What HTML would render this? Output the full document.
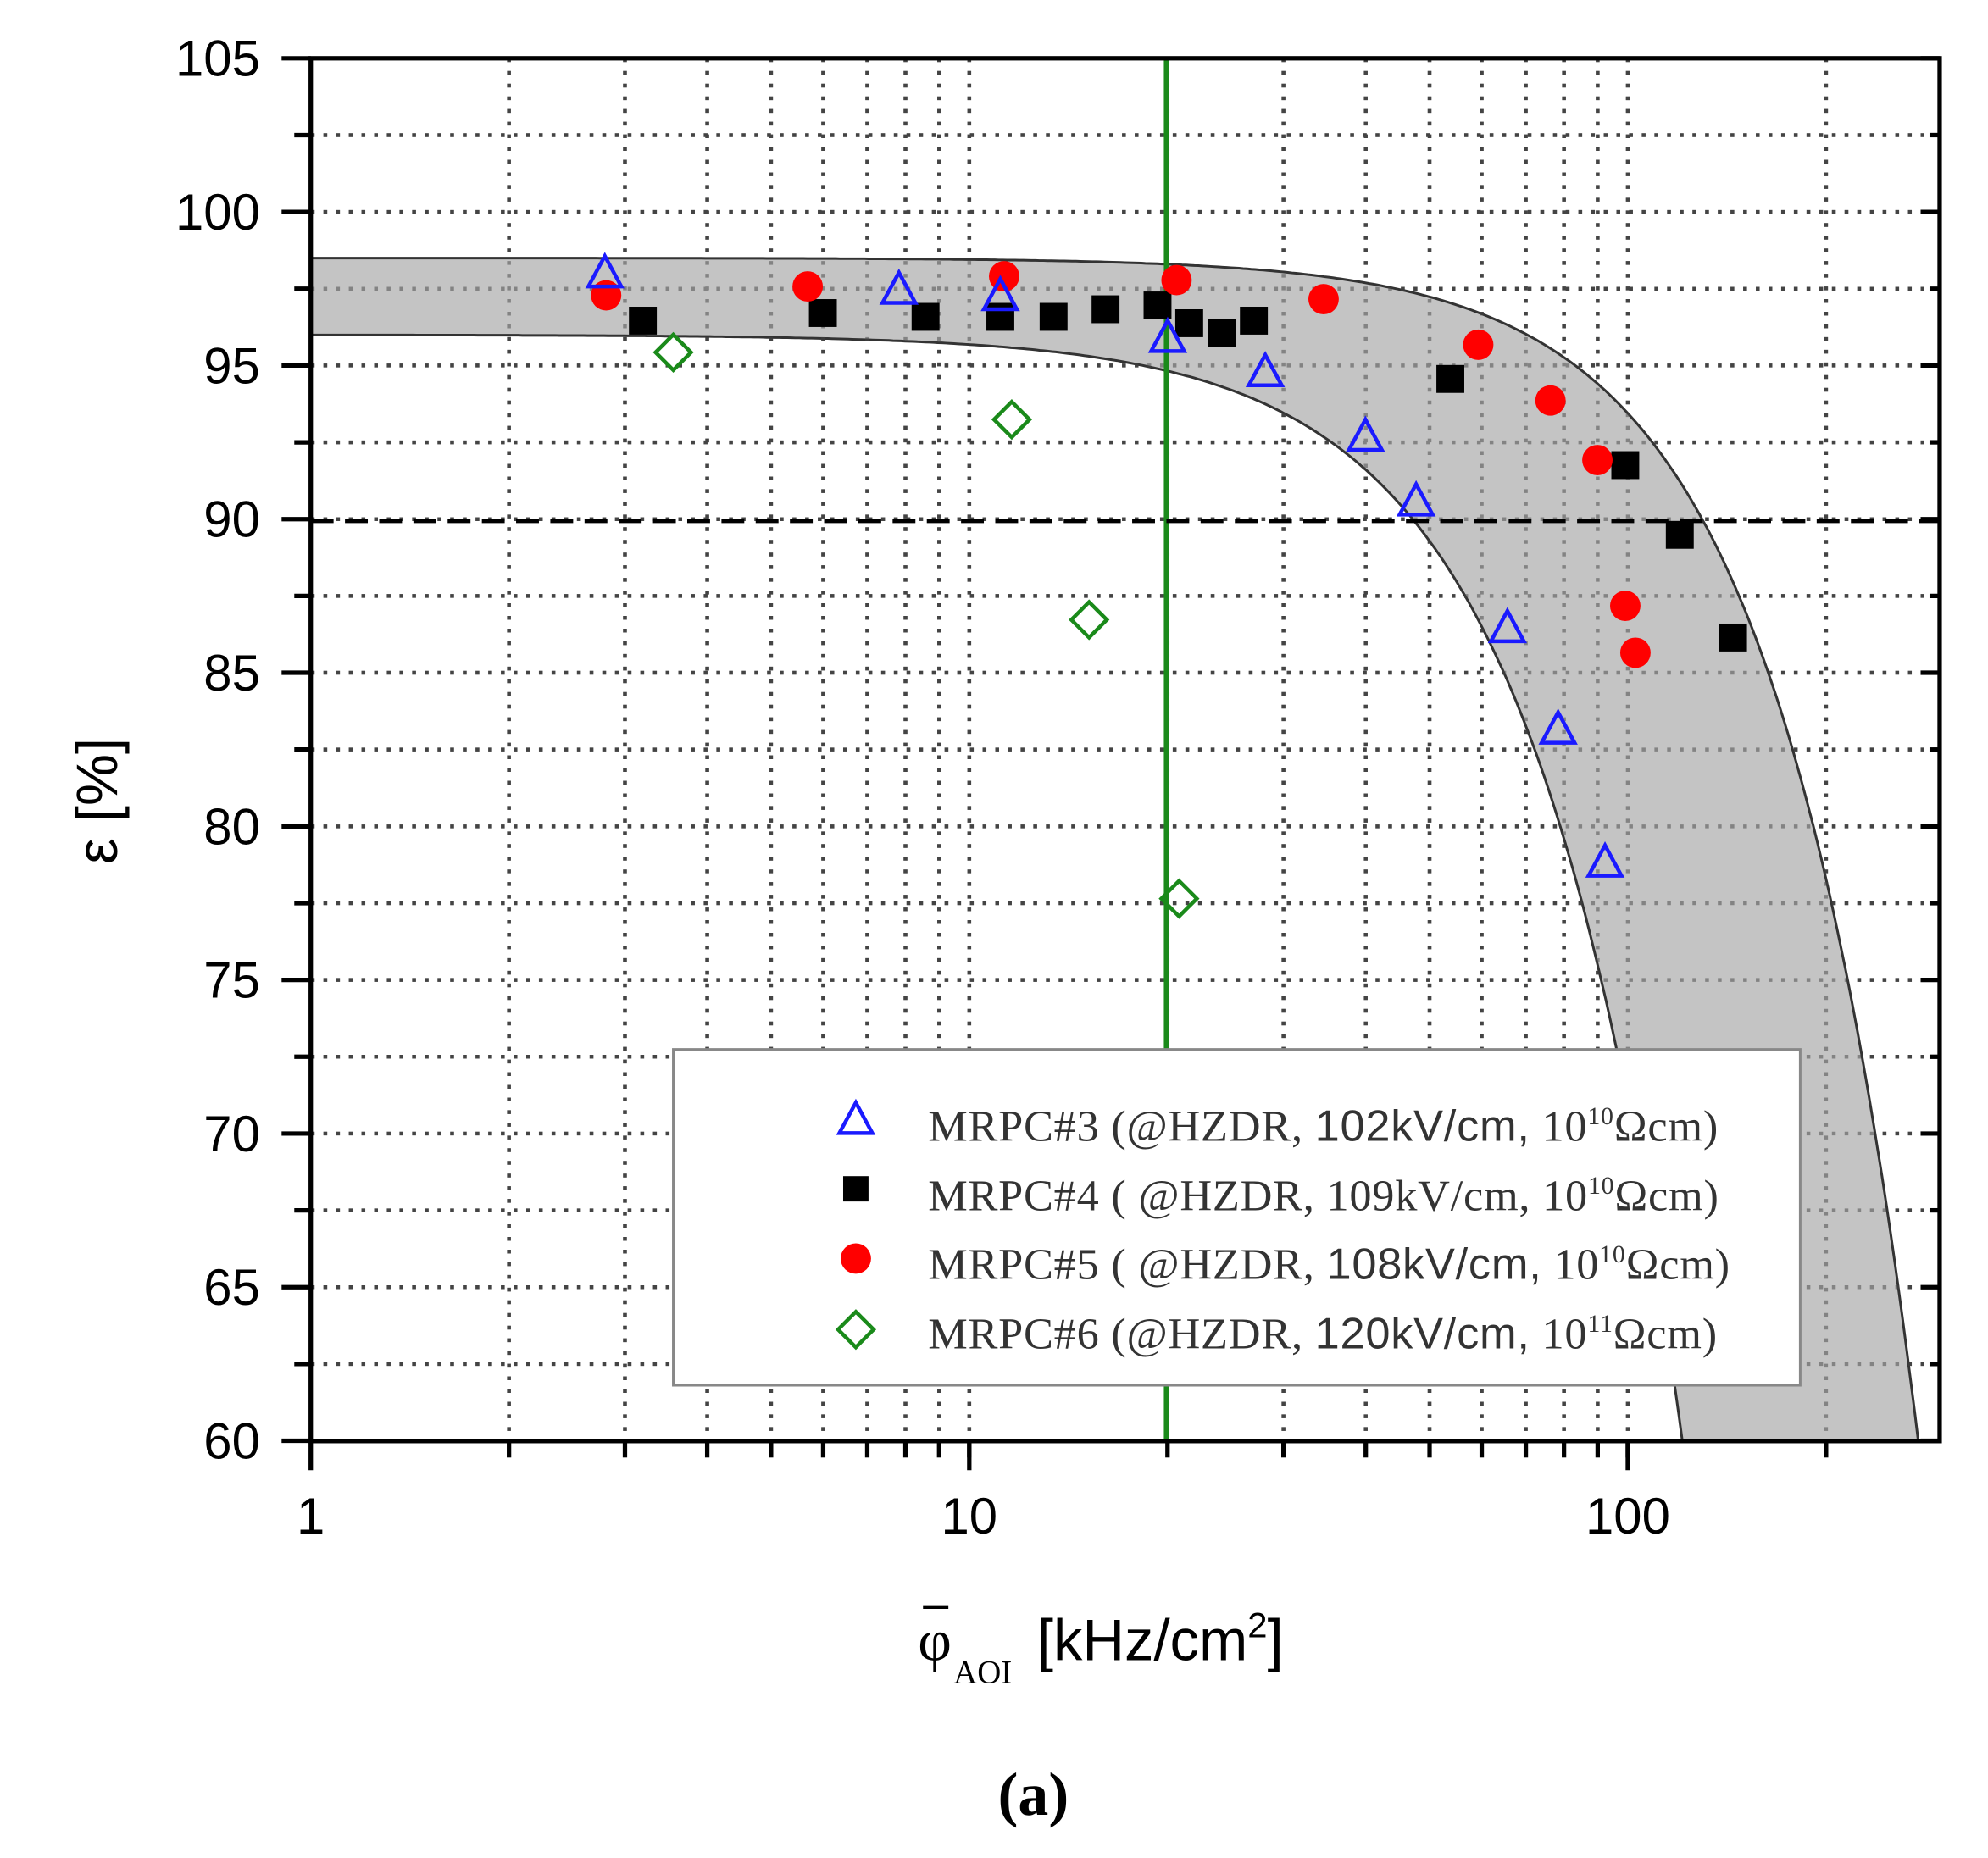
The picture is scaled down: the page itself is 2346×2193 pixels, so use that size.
<!DOCTYPE html>
<html><head><meta charset="utf-8"><style>
html,body{margin:0;padding:0;background:#fff;}
svg{display:block;}
</style></head><body>
<svg id="s" width="2346" height="2193" viewBox="0 0 1568 1466" xmlns="http://www.w3.org/2000/svg">
<rect x="0" y="0" width="1568" height="1466" fill="#fff"/>
<g id="grid"></g>
<path id="band" fill="#c4c4c4" stroke="#333" stroke-width="2"/>
<g id="grid2"></g>
<line x1="920" y1="46" x2="920" y2="1137" stroke="#1a8a1a" stroke-width="4"/>
<line x1="245" y1="411" x2="1530" y2="411" stroke="#000" stroke-width="3.5" stroke-dasharray="18,9"/>
<g id="axes" stroke="#000" stroke-width="3.5" fill="none">
<rect x="245" y="46" width="1285" height="1091"/>
</g>
<g id="ticks" stroke="#000" stroke-width="3.5"></g>
<g id="labels" font-family="Liberation Sans, sans-serif" font-size="40" fill="#000"></g>
<g id="pts"></g>
<g>
<rect x="531" y="828" width="889" height="265" fill="#fff" stroke="#888" stroke-width="2"/>
<polygon points="675,870 662,894 688,894" fill="none" stroke="#1a1aff" stroke-width="3"/>
<rect x="665" y="928" width="20" height="20" fill="#000"/>
<circle cx="675" cy="993" r="12" fill="#ff0000"/>
<polygon points="675,1035 689,1049 675,1063 661,1049" fill="none" stroke="#1a8a1a" stroke-width="3"/>
<g font-family="Liberation Serif, serif" font-size="35" fill="#333" letter-spacing="0.5">
<text x="732" y="900">MRPC#3 (@HZDR, <tspan font-family="Liberation Sans, sans-serif">102kV/cm,</tspan> 10<tspan font-size="20" dy="-13">10</tspan><tspan dy="13">Ωcm)</tspan></text>
<text x="732" y="955">MRPC#4 ( @HZDR, 109kV/cm, 10<tspan font-size="20" dy="-13">10</tspan><tspan dy="13">Ωcm)</tspan></text>
<text x="732" y="1009">MRPC#5 ( @HZDR, <tspan font-family="Liberation Sans, sans-serif">108kV/cm,</tspan> 10<tspan font-size="20" dy="-13">10</tspan><tspan dy="13">Ωcm)</tspan></text>
<text x="732" y="1064">MRPC#6 (@HZDR, <tspan font-family="Liberation Sans, sans-serif">120kV/cm,</tspan> 10<tspan font-size="20" dy="-13">11</tspan><tspan dy="13">Ωcm)</tspan></text>
</g>
</g>
<text transform="translate(92,632) rotate(-90)" text-anchor="middle" font-family="Liberation Sans, sans-serif" font-size="46">ε [%]</text>
<g font-family="Liberation Sans, sans-serif" font-size="46" fill="#000">
<text x="724" y="1310" font-family="Liberation Serif, serif">φ</text>
<line x1="728" y1="1268" x2="748" y2="1268" stroke="#000" stroke-width="3"/>
<text x="752" y="1328" font-size="26" font-family="Liberation Serif, serif">AOI</text>
<text x="818" y="1310">[kHz/cm<tspan font-size="28" dy="-18">2</tspan><tspan dy="18">]</tspan></text>
</g>
<text x="815" y="1432" text-anchor="middle" font-family="Liberation Serif, serif" font-size="48" font-weight="bold">(a)</text>
</svg>
<script>
var NS="http://www.w3.org/2000/svg";
function X(v){return 245+519.5*Math.log10(v);}
function Y(v){return 46+(105-v)*24.24;}
function el(p,t,a){var e=document.createElementNS(NS,t);for(var k in a)e.setAttribute(k,a[k]);document.getElementById(p).appendChild(e);return e;}
var xs=[2,3,4,5,6,7,8,9,10,20,30,40,50,60,70,80,90,100,200];
["grid","grid2"].forEach(function(g){
 for(var v=62.5;v<105;v+=2.5){el(g,"line",{x1:245,x2:1530,y1:Y(v),y2:Y(v),stroke:"#444","stroke-width":3,"stroke-dasharray":"3,7"});}
 xs.forEach(function(x){el(g,"line",{x1:X(x),x2:X(x),y1:46,y2:1137,stroke:"#444","stroke-width":3,"stroke-dasharray":"3,7"});});
});
document.getElementById("grid2").setAttribute("opacity","0.5");
var up=[],lo=[];
for(var i=0;i<=400;i++){var lx=i*(2.473/400);var p=Math.pow(10,lx);
 var u=98.5-38.5*Math.pow(p/276,2);var l=96-36*Math.pow(p/121,1.9);
 if(u>=60)up.push([X(p),Y(u)]);if(l>=60)lo.push([X(p),Y(l)]);}
up.push([X(276),Y(60)]);lo.push([X(121),Y(60)]);
var d="M"+up.map(function(q){return q[0].toFixed(1)+","+q[1].toFixed(1);}).join(" L");
d+=" L"+lo.slice().reverse().map(function(q){return q[0].toFixed(1)+","+q[1].toFixed(1);}).join(" L")+" Z";
document.getElementById("band").setAttribute("d",d);
for(var v=60;v<=105;v+=2.5){var maj=(v%5==0);el("ticks","line",{x1:maj?222:232,x2:245,y1:Y(v),y2:Y(v)});
 el("ticks","line",{x1:1530,x2:maj?1515:1522,y1:Y(v),y2:Y(v)});
 if(maj){var t=el("labels","text",{x:205,y:Y(v)+14,"text-anchor":"end"});t.textContent=v;}}
[1,10,100].forEach(function(x){el("ticks","line",{x1:X(x),x2:X(x),y1:1137,y2:1160});var t=el("labels","text",{x:X(x),y:1210,"text-anchor":"middle"});t.textContent=x;});
xs.forEach(function(x){el("ticks","line",{x1:X(x),x2:X(x),y1:1137,y2:1150});});
var blue=[[477,215],[709,228],[789,233],[921,266],[998,293],[1077,344],[1117,395],[1189,495],[1229,575],[1266,680]];
var blk=[[507,253],[649,247],[730,250],[789,250],[831,250],[872,244],[913,241],[938,255],[964,263],[989,253],[1144,299],[1282,367],[1325,422],[1367,503]];
var red=[[478,233],[637,226],[792,218],[928,221],[1044,236],[1166,272],[1223,316],[1260,363],[1282,478],[1290,515]];
var grn=[[531,278],[798,331],[859,489],[930,709]];
blk.forEach(function(p){el("pts","rect",{x:p[0]-11,y:p[1]-11,width:22,height:22,fill:"#000"});});
red.forEach(function(p){el("pts","circle",{cx:p[0],cy:p[1],r:12,fill:"#ff0000"});});
blue.forEach(function(p){el("pts","polygon",{points:(p[0])+","+(p[1]-13)+" "+(p[0]-13)+","+(p[1]+11)+" "+(p[0]+13)+","+(p[1]+11),fill:"none",stroke:"#1a1aff","stroke-width":3});});
grn.forEach(function(p){el("pts","polygon",{points:p[0]+","+(p[1]-14)+" "+(p[0]+14)+","+p[1]+" "+p[0]+","+(p[1]+14)+" "+(p[0]-14)+","+p[1],fill:"none",stroke:"#1a8a1a","stroke-width":3});});
</script>
</body></html>
